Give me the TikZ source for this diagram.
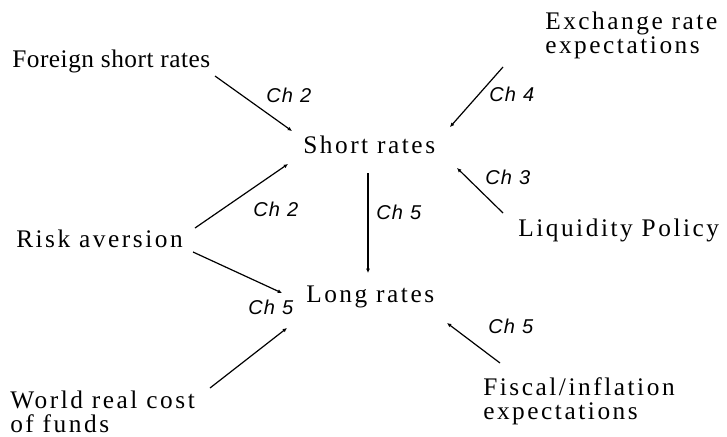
\documentclass[tikz,border=0pt]{standalone}
\usepackage{fontspec}
\setmainfont{Liberation Serif}
\newfontfamily\lblfont[LetterSpace=10]{Liberation Serif}
\newfontfamily\lblnfont[LetterSpace=2]{Liberation Serif}
\newfontfamily\chfont[LetterSpace=6]{Liberation Sans}
\usetikzlibrary{arrows.meta}
\tikzset{
  lbl/.style={inner sep=0pt, anchor=base west, align=left, font=\lblfont\fontsize{19}{18}\selectfont},
  lbln/.style={inner sep=0pt, anchor=base west, align=left, font=\lblnfont\fontsize{19}{18}\selectfont},
  chl/.style={inner sep=0pt, anchor=base west, font=\chfont\itshape\fontsize{15}{15}\selectfont},
  arr/.style={-{Latex[length=3.2pt,width=3pt]}, line width=0.9pt}
}
\begin{document}
\begin{tikzpicture}[x=0.75pt,y=-0.75pt]
\useasboundingbox (0,0) rectangle (727,436);
% text nodes
\node[lbln] (foreign) at (12,67) {Foreign short rates};
\node[lbl] (short) at (303,153) {Short rates};
\node[lbl] (exch) at (545,53) {Exchange rate\\expectations};
\node[lbl] (liq) at (518,236) {Liquidity Policy};
\node[lbl] (risk) at (16,247) {Risk aversion};
\node[lbl] (long) at (306,302) {Long rates};
\node[lbl] (world) at (10,432) {World real cost\\of funds};
\node[lbl] (fiscal) at (483,419) {Fiscal/inflation\\expectations};
% chapter labels
\node[chl] (ch2a) at (266,102) {Ch\hspace{0.35em}2};
\node[chl] (ch4) at (489,101) {Ch\hspace{0.35em}4};
\node[chl] (ch3) at (485,184) {Ch\hspace{0.35em}3};
\node[chl] (ch2b) at (253,216) {Ch\hspace{0.35em}2};
\node[chl] (ch5m) at (376,219) {Ch\hspace{0.35em}5};
\node[chl] (ch5l) at (248,314) {Ch\hspace{0.35em}5};
\node[chl] (ch5r) at (488,333) {Ch\hspace{0.35em}5};
% connector end points
\coordinate (f0) at (215,76);  \coordinate (f1) at (292,131);
\coordinate (e0) at (503,67);  \coordinate (e1) at (450,127);
\coordinate (l0) at (503,213); \coordinate (l1) at (457,168);
\coordinate (r0) at (195,228); \coordinate (r1) at (288,164);
\coordinate (r2) at (193,252); \coordinate (r3) at (282,293);
\coordinate (w0) at (210,388); \coordinate (w1) at (287,328);
\coordinate (c0) at (500,363); \coordinate (c1) at (447,323);
\coordinate (v0) at (368,173); \coordinate (v1) at (368,273);
% connectors
\draw[arr] (f0) -- (f1);
\draw[arr] (e0) -- (e1);
\draw[arr] (l0) -- (l1);
\draw[arr] (r0) -- (r1);
\draw[arr] (r2) -- (r3);
\draw[arr] (w0) -- (w1);
\draw[arr] (c0) -- (c1);
\draw[arr] (v0) -- (v1);
\end{tikzpicture}
\end{document}
